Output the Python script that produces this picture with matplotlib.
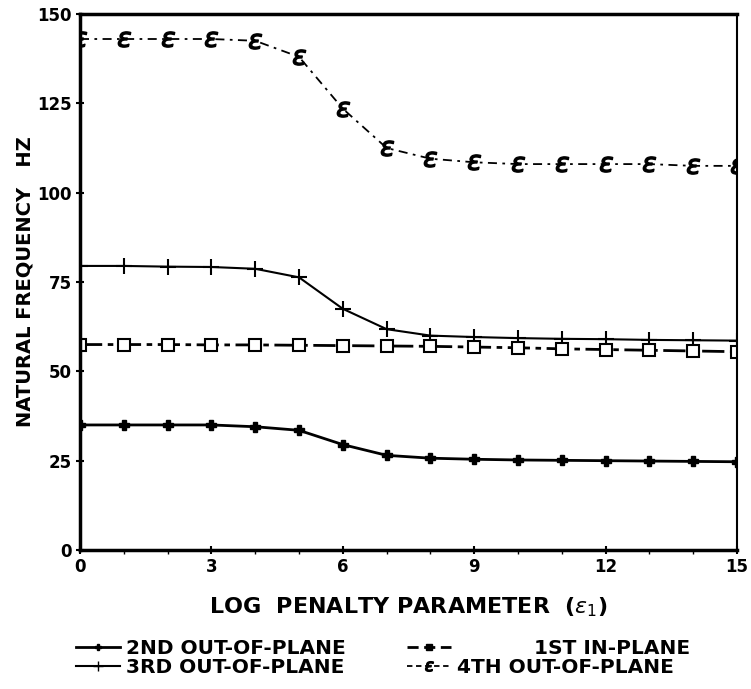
import numpy as np
import matplotlib.pyplot as plt
from matplotlib.lines import Line2D

# log penalty parameter
x = list(range(16))

# natural frequencies (Hz)
f_2nd_out = [35, 35, 35, 35, 34.5, 33.5, 29.5, 26.5, 25.7, 25.4, 25.2, 25.1, 25.0, 24.9, 24.8, 24.7]
f_3rd_out = [79.5, 79.5, 79.3, 79.2, 78.7, 76.3, 67.5, 61.8, 60.0, 59.6, 59.3, 59.1, 59.0, 58.8, 58.7, 58.6]
f_1st_in = [57.5, 57.5, 57.5, 57.4, 57.4, 57.3, 57.2, 57.1, 57.0, 56.8, 56.6, 56.3, 56.1, 55.9, 55.7, 55.5]
f_4th_out = [143, 143, 143, 143, 142.5, 138, 123.5, 112.5, 109.5, 108.5, 108, 108, 108, 108, 107.5, 107.5]

xticks = [0, 3, 6, 9, 12, 15]
yticks = [0, 25, 50, 75, 100, 125, 150]

font = dict(family='DejaVu Sans', weight='bold')

fig = plt.figure(figsize=(7.51, 6.89), dpi=100)
ax = fig.add_axes([0.1065, 0.2017, 0.875, 0.778])

ax.plot(x, f_2nd_out, color='black', lw=2, marker='P', ms=7)
ax.plot(x, f_3rd_out, color='black', lw=1.5, marker='+', ms=11, mew=1.5)
ax.plot(x, f_1st_in, color='black', lw=2, ls=(0, (8, 2, 2, 2)), marker='s', ms=9,
        mfc='white', mew=1.5)
ax.plot(x, f_4th_out, color='black', lw=1.3, ls=(0, (5, 3, 1.5, 3)), marker=r'$\epsilon$', ms=11)

ax.set_xlim(0, 15)
ax.set_ylim(0, 150)
ax.set_xticks(xticks)
ax.set_xticks(x, minor=True)
ax.set_yticks(yticks)
ax.set_xticklabels([str(t) for t in xticks], fontsize=12, **font)
ax.set_yticklabels([str(t) for t in yticks], fontsize=12, **font)
ax.tick_params(direction='inout', length=6, width=1.5, pad=3)
ax.tick_params(which='minor', direction='out', length=3, width=1)
for s in ax.spines.values():
    s.set_linewidth(2.5)
ax.spines['right'].set_linewidth(1.5)

ax.set_xlabel(r'LOG  PENALTY PARAMETER  ($\epsilon_1$)', fontsize=16, labelpad=14, **font)
ax.set_ylabel('NATURAL FREQUENCY   HZ', fontsize=14, labelpad=2, **font)

handles = [
    Line2D([], [], color='black', lw=2, marker='P', ms=5),
    Line2D([], [], color='black', lw=1.5, marker='+', ms=7),
    Line2D([], [], color='black', lw=2, ls=(0, (4, 2)), marker='s', ms=4),
    Line2D([], [], color='black', lw=1.3, ls=(0, (3, 2)), marker=r'$\epsilon$', ms=7),
]
labels = ['2ND OUT-OF-PLANE', '3RD OUT-OF-PLANE', '           1ST IN-PLANE', '4TH OUT-OF-PLANE']
fig.legend(handles, labels, ncol=2, loc='upper center', bbox_to_anchor=(0.51, 0.072),
           frameon=False, handlelength=2.2, handletextpad=0.3, columnspacing=3.0,
           labelspacing=0.0, borderaxespad=0, borderpad=0, prop=dict(size=14.5, **font))

fig.savefig('out.png', dpi=100)
